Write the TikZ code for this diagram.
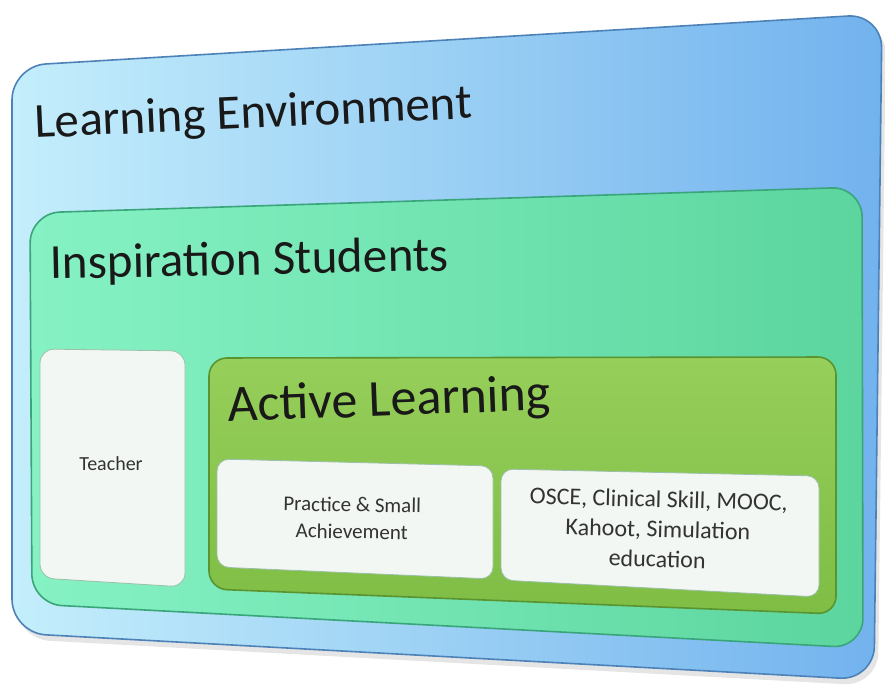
\documentclass[tikz,border=0pt]{standalone}
\usepackage{fontspec}
\setmainfont{Carlito}
\begin{document}
\begin{tikzpicture}[x=1pt,y=-1pt,
  boxedge/.style={rounded corners=#1, line width=1.6pt, line join=round},
  bigtxt/.style={anchor=base west, inner sep=0pt, text=black!90},
  smalltxt/.style={align=center, inner sep=0pt, text=black!80}]
\useasboundingbox (0,0) rectangle (885,687);
\definecolor{envA}{HTML}{C4EEFB}
\definecolor{envB}{HTML}{72B2EE}
\definecolor{envE}{HTML}{4D82B8}
\definecolor{insA}{HTML}{86F2C4}
\definecolor{insB}{HTML}{5CD59E}
\definecolor{insE}{HTML}{3AA57A}
\definecolor{actA}{HTML}{96CF5A}
\definecolor{actB}{HTML}{7FBD45}
\definecolor{actE}{HTML}{5A9430}
\definecolor{wht}{HTML}{F2F7F3}
\definecolor{whtE}{HTML}{9BBFA8}
% outer box corners
\coordinate (o1) at (12,66);
\coordinate (o2) at (882,14);
\coordinate (o3) at (874,680);
\coordinate (o4) at (12,633);
% inspiration box
\coordinate (i1) at (30,213);
\coordinate (i2) at (862,187);
\coordinate (i3) at (863,648);
\coordinate (i4) at (32,604);
% teacher
\coordinate (t1) at (40,349);
\coordinate (t2) at (185,351);
\coordinate (t3) at (185,587);
\coordinate (t4) at (40,578);
% active
\coordinate (a1) at (209,358);
\coordinate (a2) at (836,357);
\coordinate (a3) at (836,614);
\coordinate (a4) at (209,589);
% practice
\coordinate (p1) at (217,459);
\coordinate (p2) at (493,466);
\coordinate (p3) at (493,579);
\coordinate (p4) at (217,567);
% osce
\coordinate (s1) at (501,469);
\coordinate (s2) at (819,476);
\coordinate (s3) at (819,597);
\coordinate (s4) at (501,580);
% shadow
\fill[black!10, rounded corners=34pt] ([shift={(4,6)}]o1) -- ([shift={(4,6)}]o2) -- ([shift={(4,6)}]o3) -- ([shift={(4,6)}]o4) -- cycle;
% outer
\shade[rounded corners=34pt, shading angle=60, left color=envA, right color=envB]
  (o1) -- (o2) -- (o3) -- (o4) -- cycle;
\draw[boxedge=34pt, draw=envE] (o1) -- (o2) -- (o3) -- (o4) -- cycle;
% inspiration
\shade[rounded corners=30pt, left color=insA, right color=insB]
  (i1) -- (i2) -- (i3) -- (i4) -- cycle;
\draw[boxedge=30pt, draw=insE] (i1) -- (i2) -- (i3) -- (i4) -- cycle;
% teacher
\fill[wht, rounded corners=14pt] (t1) -- (t2) -- (t3) -- (t4) -- cycle;
\draw[boxedge=14pt, draw=whtE, line width=0.8pt] (t1) -- (t2) -- (t3) -- (t4) -- cycle;
% active
\shade[rounded corners=18pt, top color=actA, bottom color=actB]
  (a1) -- (a2) -- (a3) -- (a4) -- cycle;
\draw[boxedge=18pt, draw=actE] (a1) -- (a2) -- (a3) -- (a4) -- cycle;
% practice
\fill[wht, rounded corners=12pt] (p1) -- (p2) -- (p3) -- (p4) -- cycle;
\draw[boxedge=12pt, draw=whtE, line width=0.8pt] (p1) -- (p2) -- (p3) -- (p4) -- cycle;
% osce
\fill[wht, rounded corners=12pt] (s1) -- (s2) -- (s3) -- (s4) -- cycle;
\draw[boxedge=12pt, draw=whtE, line width=0.8pt] (s1) -- (s2) -- (s3) -- (s4) -- cycle;
% texts
\node[bigtxt, rotate=2.6, font=\fontsize{49}{52}\selectfont] (le) at (35,138) {Learning Environment};
\node[bigtxt, rotate=1.2, font=\fontsize{49}{52}\selectfont] (is) at (50,279) {Inspiration Students};
\node[bigtxt, rotate=2.2, font=\fontsize{52}{56}\selectfont] (al) at (228,422) {Active Learning};
\node[smalltxt, font=\fontsize{20}{24}\selectfont] (teacher) at (111,464) {Teacher};
\node[smalltxt, rotate=-1, font=\fontsize{21}{27}\selectfont] (practice) at (352,518) {Practice \& Small\\Achievement};
\node[smalltxt, rotate=-1.5, font=\fontsize{24}{30}\selectfont] (osce) at (658,529) {OSCE, Clinical Skill, MOOC,\\Kahoot, Simulation\\education};
\end{tikzpicture}
\end{document}
